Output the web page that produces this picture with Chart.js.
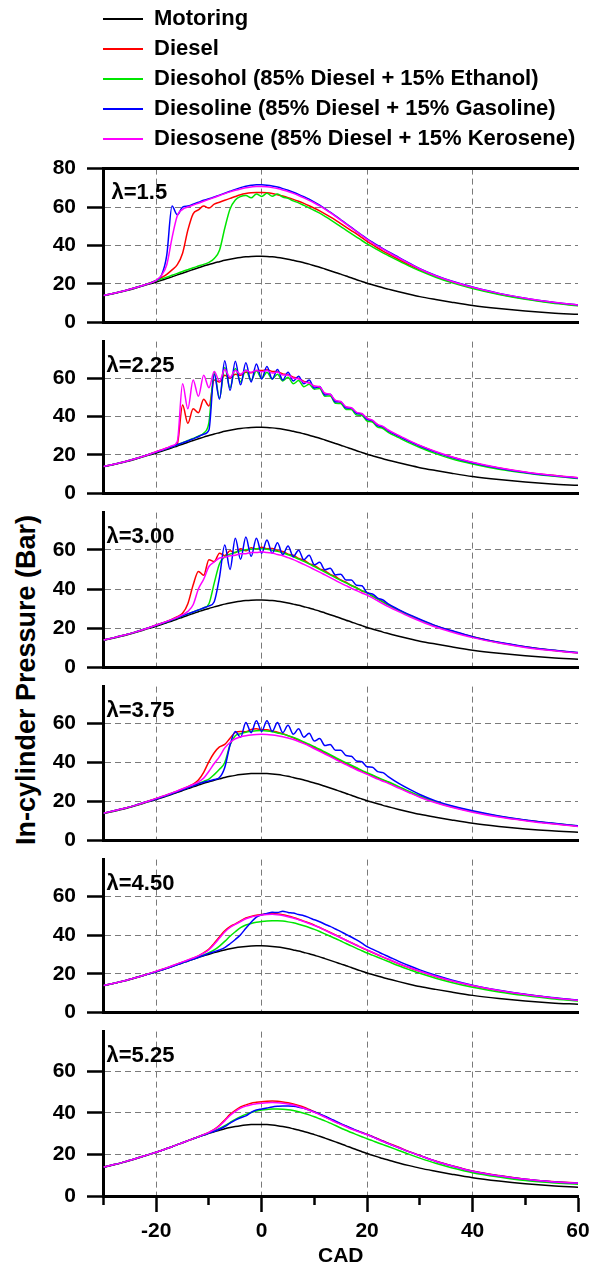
<!DOCTYPE html>
<html>
<head>
<meta charset="utf-8">
<script src="https://cdn.jsdelivr.net/npm/chart.js@4.4.1/dist/chart.umd.min.js"></script>
<style>
  html, body { margin: 0; padding: 0; background: #fff; }
  #wrap { position: relative; width: 601px; height: 1264px; overflow: hidden; }
  #wrap canvas { position: absolute; left: 0; }
  #ytitle {
    position: absolute; left: 26px; top: 680px;
    transform: translate(-50%, -50%) rotate(-90deg);
    white-space: nowrap; color: #000;
    font: bold 27px "Liberation Sans", Arial, sans-serif;
  }
</style>
</head>
<body>
<div id="wrap">
  <canvas id="legend" width="601" height="175" style="top:0"></canvas>
  <div id="ytitle">In-cylinder Pressure (Bar)</div>
</div>
<script>
// crank angle grid (CAD) shared by every curve
const cad = [-30, -28, -26, -24, -22,
  -20, -19, -18, -17, -16, -15, -14, -13, -12, -11,
  -10, -9, -8, -7, -6, -5, -4, -3, -2, -1,
  0, 1, 2, 3, 4, 5, 6, 7, 8, 9,
  10, 11, 12, 13, 14, 15, 16, 17, 18, 19,
  20, 21, 22, 23, 24, 26, 28, 30, 33, 36, 40, 45, 50, 55, 60];

const motoring = [13.8, 15.0, 16.3, 17.8, 19.4,
  21.0, 21.9, 22.8, 23.7, 24.7, 25.6, 26.6, 27.5, 28.4, 29.3,
  30.1, 30.9, 31.6, 32.3, 32.9, 33.4, 33.8, 34.1, 34.3, 34.4,
  34.4, 34.3, 34.1, 33.8, 33.4, 32.9, 32.3, 31.7, 31.0, 30.3,
  29.5, 28.7, 27.8, 26.9, 26.0, 25.1, 24.1, 23.2, 22.2, 21.3,
  20.4, 19.6, 18.8, 18.0, 17.3, 15.9, 14.6, 13.4, 11.9, 10.5, 8.8, 7.2, 5.9, 4.9, 4.2];

// lambda = 1.5
const diesel15 = [14.0, 15.2, 16.5, 18.0, 19.7,
  21.8, 23.3, 25.0, 27.3, 30.0, 36.0, 48.0, 56.5, 58.5, 60.5,
  59.5, 61.5, 62.5, 63.5, 64.5, 65.5, 66.4, 67.0, 67.4, 67.6,
  67.6, 67.4, 67.0, 66.4, 65.7, 64.9, 64.0, 63.0, 61.9, 60.7,
  59.4, 58.0, 56.5, 54.9, 53.2, 51.4, 49.6, 47.8, 46.0, 44.1,
  42.2, 40.4, 38.7, 37.1, 35.6, 32.7, 29.9, 27.3, 23.9, 21.1, 18.0, 14.8, 12.3, 10.3, 8.8];
const diesohol15 = [14.0, 15.2, 16.5, 18.0, 19.7,
  21.7, 22.6, 23.5, 24.5, 25.5, 26.5, 27.4, 28.4, 29.3, 30.2,
  31.2, 33.2, 37.5, 49.0, 59.0, 63.7, 65.5, 66.0, 64.8, 66.8,
  65.5, 67.2, 65.6, 66.8, 65.2, 64.5, 63.2, 62.2, 60.9, 59.6,
  58.2, 56.8, 55.2, 53.5, 51.7, 49.8, 48.0, 46.2, 44.4, 42.6,
  40.9, 39.3, 37.7, 36.2, 34.8, 32.0, 29.3, 26.8, 23.5, 20.7, 17.6, 14.5, 12.0, 10.1, 8.6];
const diesoline15 = [14.0, 15.2, 16.5, 18.0, 19.7,
  21.8, 24.5, 35.0, 60.5, 56.0, 60.0, 60.5, 61.5, 62.5, 63.5,
  64.3, 65.2, 66.2, 67.2, 68.2, 69.2, 70.1, 70.8, 71.3, 71.6,
  71.6, 71.4, 71.0, 70.4, 69.6, 68.7, 67.7, 66.6, 65.4, 64.1,
  62.6, 61.0, 59.2, 57.3, 55.4, 53.4, 51.4, 49.4, 47.4, 45.4,
  43.5, 41.7, 40.0, 38.4, 36.8, 33.8, 30.8, 27.9, 24.4, 21.5, 18.4, 15.1, 12.6, 10.6, 9.0];
const diesosene15 = [14.0, 15.2, 16.5, 18.0, 19.7,
  21.9, 24.5, 30.0, 44.0, 55.5, 58.8, 60.0, 61.0, 62.0, 63.0,
  64.0, 65.0, 66.0, 67.0, 67.9, 68.7, 69.4, 70.0, 70.4, 70.7,
  70.7, 70.5, 70.1, 69.6, 68.9, 68.1, 67.1, 66.0, 64.8, 63.5,
  62.1, 60.6, 58.9, 57.1, 55.2, 53.2, 51.2, 49.2, 47.2, 45.2,
  43.2, 41.4, 39.7, 38.1, 36.5, 33.5, 30.6, 27.8, 24.3, 21.4, 18.3, 15.1, 12.6, 10.6, 9.1];

// lambda = 2.25
const diesel225 = [14.0, 15.2, 16.5, 18.0, 19.7,
  21.7, 22.6, 23.6, 24.6, 25.8, 46.0, 36.5, 44.0, 42.0, 49.0,
  45.5, 59.0, 58.0, 61.5, 60.0, 62.0, 61.5, 63.0, 62.8, 64.0,
  64.0, 64.3, 63.5, 63.3, 62.2, 61.8, 60.5, 59.8, 58.3, 57.6,
  55.8, 54.9, 52.0, 51.1, 48.3, 47.3, 44.9, 44.2, 42.0, 41.2,
  39.1, 37.5, 35.8, 34.3, 32.7, 29.9, 27.2, 24.8, 21.6, 18.9, 16.0, 13.2, 11.0, 9.4, 8.1];
const diesohol225 = [14.0, 15.2, 16.5, 18.0, 19.7,
  21.5, 22.4, 23.3, 24.3, 25.3, 26.4, 27.5, 28.6, 29.8, 31.3,
  37.0, 63.0, 49.5, 65.5, 55.0, 65.0, 58.0, 64.2, 58.8, 63.8,
  59.8, 63.0, 59.5, 62.0, 58.5, 60.5, 57.0, 58.7, 55.5, 56.8,
  54.2, 54.6, 50.6, 50.7, 46.9, 46.8, 43.7, 43.6, 40.8, 40.6,
  37.7, 37.1, 34.5, 33.8, 31.8, 29.0, 26.3, 23.9, 20.7, 18.0, 15.3, 12.6, 10.6, 9.0, 7.8];
const diesoline225 = [14.0, 15.2, 16.5, 18.0, 19.7,
  21.5, 22.4, 23.3, 24.3, 25.3, 26.3, 27.3, 28.4, 29.5, 30.8,
  33.0, 62.0, 49.0, 69.0, 53.5, 68.8, 56.5, 68.0, 58.0, 67.3,
  59.6, 66.0, 59.5, 64.5, 59.0, 63.0, 58.5, 61.0, 57.0, 59.0,
  54.8, 55.6, 51.2, 51.6, 47.6, 47.7, 44.4, 44.4, 41.6, 41.4,
  38.5, 37.9, 35.3, 34.6, 32.6, 29.8, 27.1, 24.7, 21.5, 18.8, 15.9, 13.1, 10.9, 9.3, 8.0];
const diesosene225 = [14.0, 15.2, 16.5, 18.0, 19.7,
  21.7, 22.6, 23.6, 24.8, 27.0, 57.0, 44.0, 59.0, 50.5, 61.5,
  55.0, 63.5, 58.5, 64.5, 60.5, 64.0, 62.0, 64.0, 63.0, 64.0,
  63.3, 64.0, 62.6, 63.2, 61.6, 61.6, 59.9, 59.7, 57.9, 57.5,
  55.8, 55.5, 52.1, 51.6, 48.4, 47.8, 45.1, 44.6, 42.2, 41.6,
  39.1, 38.1, 35.8, 34.9, 33.0, 30.2, 27.5, 25.0, 21.8, 19.1, 16.2, 13.3, 11.1, 9.5, 8.2];

// lambda = 3.00
const diesel300 = [14.0, 15.2, 16.5, 18.0, 19.7,
  21.6, 22.5, 23.5, 24.6, 25.9, 27.6, 32.5, 42.0, 49.0, 47.0,
  55.0, 54.0, 58.3, 57.0, 59.5, 58.5, 60.5, 59.5, 61.0, 60.5,
  61.3, 60.6, 60.7, 59.5, 59.2, 57.8, 57.2, 55.6, 54.8, 53.0,
  52.0, 50.3, 49.3, 47.5, 46.4, 44.6, 43.5, 41.8, 40.7, 39.0,
  38.2, 36.5, 35.0, 33.4, 32.0, 29.2, 26.6, 24.3, 21.1, 18.6, 15.6, 12.7, 10.5, 8.8, 7.5];
const diesohol300 = [14.0, 15.2, 16.5, 18.0, 19.7,
  21.5, 22.4, 23.3, 24.3, 25.3, 26.3, 27.3, 28.3, 29.3, 30.4,
  32.5, 43.0, 52.9, 56.5, 57.8, 58.8, 59.5, 60.0, 60.3, 60.5,
  60.5, 60.3, 59.8, 59.2, 58.4, 57.5, 56.5, 55.3, 54.1, 52.8,
  51.4, 50.0, 48.6, 47.2, 45.8, 44.4, 43.1, 41.8, 40.5, 39.2,
  38.0, 36.4, 34.8, 33.3, 31.8, 29.1, 26.5, 24.2, 21.0, 18.5, 15.5, 12.6, 10.4, 8.7, 7.4];
const diesoline300 = [14.0, 15.2, 16.5, 18.0, 19.7,
  21.5, 22.4, 23.3, 24.3, 25.3, 26.3, 27.3, 28.3, 29.3, 30.3,
  31.4, 33.5, 46.0, 62.5, 50.0, 65.9, 55.2, 66.6, 56.7, 65.9,
  58.3, 65.0, 58.3, 63.6, 57.5, 62.0, 56.5, 59.8, 55.0, 57.2,
  52.4, 53.6, 49.8, 50.6, 47.2, 47.6, 44.6, 44.6, 41.9, 41.7,
  38.0, 37.5, 35.4, 34.4, 32.4, 29.5, 26.9, 24.6, 21.3, 18.8, 15.7, 12.8, 10.6, 8.9, 7.6];
const diesosene300 = [14.0, 15.2, 16.5, 18.0, 19.7,
  21.6, 22.5, 23.5, 24.5, 25.6, 26.9, 28.6, 32.0, 40.0, 45.0,
  51.5, 53.8, 55.8, 56.2, 57.0, 57.2, 58.0, 58.0, 58.7, 58.6,
  59.0, 58.6, 58.4, 57.6, 57.0, 56.0, 55.0, 53.8, 52.6, 51.3,
  49.9, 48.6, 47.2, 45.8, 44.4, 43.0, 41.7, 40.4, 39.2, 38.0,
  36.9, 35.5, 34.0, 32.5, 31.1, 28.5, 26.0, 23.7, 20.6, 18.1, 15.2, 12.4, 10.2, 8.6, 7.3];

// lambda = 3.75
const diesel375 = [14.0, 15.2, 16.5, 18.0, 19.7,
  21.5, 22.4, 23.3, 24.3, 25.3, 26.4, 27.6, 28.9, 31.0, 35.0,
  40.5, 45.0, 48.0, 49.3, 52.5, 55.5, 56.0, 55.8, 57.0, 57.3,
  56.8, 56.9, 56.2, 55.6, 54.8, 53.8, 52.7, 51.5, 50.2, 48.9,
  47.6, 46.3, 44.9, 43.5, 42.1, 40.7, 39.4, 38.1, 36.8, 35.6,
  34.4, 33.2, 32.0, 30.9, 29.8, 27.3, 24.8, 22.5, 19.6, 17.3, 14.8, 12.3, 10.3, 8.7, 7.3];
const diesohol375 = [14.0, 15.2, 16.5, 18.0, 19.7,
  21.4, 22.3, 23.2, 24.2, 25.2, 26.2, 27.2, 28.2, 29.2, 30.3,
  31.5, 33.8, 36.5, 40.0, 49.0, 53.8, 54.8, 55.6, 56.0, 56.3,
  56.4, 56.2, 55.8, 55.2, 54.6, 53.8, 52.9, 51.8, 50.6, 49.4,
  48.1, 46.8, 45.4, 44.0, 42.6, 41.2, 39.9, 38.6, 37.3, 36.0,
  34.8, 33.6, 32.4, 31.2, 30.1, 27.6, 25.1, 22.8, 19.8, 17.5, 14.9, 12.4, 10.4, 8.8, 7.4];
const diesoline375 = [14.0, 15.2, 16.5, 18.0, 19.7,
  21.3, 22.2, 23.1, 24.0, 25.0, 26.0, 27.0, 28.0, 29.0, 29.9,
  30.5, 31.3, 32.3, 37.5, 49.0, 56.0, 53.0, 60.6, 55.3, 61.4,
  56.0, 61.4, 56.0, 60.6, 55.3, 59.1, 54.5, 57.3, 53.0, 55.0,
  51.0, 52.3, 48.7, 49.3, 46.3, 46.3, 43.6, 43.2, 40.8, 40.4,
  37.8, 37.6, 35.3, 34.8, 32.8, 29.3, 26.3, 23.6, 20.3, 17.8, 15.2, 12.6, 10.5, 8.9, 7.5];
const diesosene375 = [14.0, 15.2, 16.5, 18.0, 19.7,
  21.6, 22.5, 23.4, 24.4, 25.4, 26.5, 27.6, 28.7, 30.0, 32.0,
  35.5, 39.5, 43.0, 47.5, 50.3, 52.2, 53.2, 53.8, 54.2, 54.4,
  54.5, 54.4, 54.1, 53.7, 53.2, 52.6, 51.8, 50.8, 49.7, 48.5,
  47.1, 45.8, 44.4, 43.0, 41.6, 40.2, 38.9, 37.6, 36.3, 35.1,
  33.9, 32.7, 31.5, 30.4, 29.3, 26.9, 24.5, 22.2, 19.3, 17.0, 14.5, 12.0, 10.1, 8.5, 7.2];

// lambda = 4.50
const diesel450 = [13.9, 15.1, 16.4, 17.9, 19.5,
  21.2, 22.1, 23.0, 24.0, 25.0, 26.0, 27.0, 28.0, 29.2, 30.8,
  32.8, 35.8, 39.0, 42.2, 44.3, 45.8, 47.3, 48.8, 49.6, 50.2,
  50.6, 51.0, 51.1, 50.9, 50.5, 49.9, 49.1, 48.2, 47.2, 46.2,
  45.1, 43.9, 42.6, 41.3, 40.0, 38.7, 37.3, 36.0, 34.7, 33.4,
  32.2, 31.0, 29.8, 28.6, 27.4, 25.1, 23.1, 21.2, 18.6, 16.3, 13.8, 11.2, 9.2, 7.5, 6.2];
const diesohol450 = [13.9, 15.1, 16.4, 17.9, 19.5,
  21.1, 22.0, 22.9, 23.8, 24.8, 25.7, 26.7, 27.6, 28.6, 29.7,
  30.9, 32.3, 34.3, 36.7, 39.4, 41.7, 43.8, 45.2, 46.0, 46.6,
  47.0, 47.3, 47.4, 47.4, 47.2, 46.8, 46.3, 45.6, 44.8, 43.9,
  42.9, 41.8, 40.6, 39.4, 38.2, 36.9, 35.6, 34.4, 33.1, 31.9,
  30.7, 29.6, 28.5, 27.4, 26.3, 24.1, 22.1, 20.2, 17.7, 15.5, 13.0, 10.6, 8.7, 7.1, 5.9];
const diesoline450 = [13.9, 15.1, 16.4, 17.9, 19.5,
  21.0, 21.9, 22.8, 23.7, 24.7, 25.6, 26.6, 27.5, 28.5, 29.5,
  30.5, 31.4, 32.3, 33.5, 35.5, 37.7, 40.2, 43.5, 46.6, 49.3,
  50.5, 51.1, 51.8, 51.6, 52.3, 51.7, 51.4, 50.6, 50.0, 49.0,
  47.9, 46.9, 45.6, 44.5, 43.1, 41.8, 40.3, 39.0, 37.5, 35.8,
  34.0, 32.7, 31.4, 30.1, 28.9, 26.4, 24.1, 22.0, 19.2, 16.8, 14.1, 11.5, 9.4, 7.7, 6.4];
const diesosene450 = [13.9, 15.1, 16.4, 17.9, 19.5,
  21.3, 22.2, 23.1, 24.1, 25.1, 26.1, 27.1, 28.1, 29.2, 30.6,
  32.4, 35.2, 38.4, 41.6, 43.9, 45.5, 47.0, 48.4, 49.3, 49.9,
  50.3, 50.6, 50.7, 50.5, 50.1, 49.5, 48.8, 47.9, 47.0, 46.0,
  44.9, 43.8, 42.5, 41.2, 39.9, 38.6, 37.3, 36.0, 34.7, 33.5,
  32.3, 31.1, 29.9, 28.7, 27.6, 25.3, 23.2, 21.3, 18.7, 16.4, 13.9, 11.3, 9.3, 7.6, 6.3];

// lambda = 5.25
const diesel525 = [13.9, 15.1, 16.4, 17.9, 19.5,
  21.0, 21.9, 22.8, 23.7, 24.7, 25.6, 26.6, 27.5, 28.5, 29.5,
  30.6, 32.0, 34.0, 36.5, 39.2, 41.2, 42.8, 43.8, 44.6, 45.0,
  45.3, 45.5, 45.6, 45.5, 45.2, 44.8, 44.2, 43.5, 42.7, 41.6,
  40.5, 39.3, 38.1, 36.9, 35.7, 34.6, 33.5, 32.4, 31.4, 30.5,
  29.6, 28.6, 27.5, 26.4, 25.4, 23.4, 21.3, 19.5, 16.8, 14.6, 12.0, 9.8, 8.1, 7.0, 6.3];
const diesohol525 = [13.9, 15.1, 16.4, 17.9, 19.5,
  21.0, 21.9, 22.8, 23.7, 24.7, 25.6, 26.6, 27.5, 28.5, 29.4,
  30.3, 31.3, 32.5, 33.8, 35.3, 36.8, 38.1, 39.2, 40.1, 40.8,
  41.3, 41.6, 41.8, 41.8, 41.7, 41.5, 41.1, 40.5, 39.8, 39.0,
  38.1, 37.1, 36.1, 35.0, 33.9, 32.7, 31.6, 30.5, 29.5, 28.5,
  27.5, 26.6, 25.6, 24.7, 23.8, 21.9, 20.0, 18.2, 15.7, 13.6, 11.2, 9.1, 7.4, 6.4, 5.7];
const diesoline525 = [13.9, 15.1, 16.4, 17.9, 19.5,
  21.0, 21.9, 22.8, 23.7, 24.7, 25.6, 26.6, 27.5, 28.4, 29.3,
  30.2, 31.1, 32.1, 33.4, 35.0, 36.5, 37.6, 38.5, 40.2, 41.3,
  41.8, 42.3, 42.8, 43.1, 43.3, 43.3, 43.1, 42.7, 42.1, 41.3,
  40.4, 39.4, 38.3, 37.2, 36.0, 34.8, 33.7, 32.6, 31.5, 30.5,
  29.5, 28.5, 27.4, 26.3, 25.2, 23.2, 21.2, 19.4, 16.7, 14.5, 11.9, 9.7, 8.0, 6.9, 6.2];
const diesosene525 = [13.9, 15.1, 16.4, 17.9, 19.5,
  21.0, 21.9, 22.8, 23.7, 24.7, 25.6, 26.6, 27.5, 28.5, 29.5,
  30.6, 31.9, 33.7, 36.1, 38.7, 40.7, 42.2, 43.2, 43.9, 44.3,
  44.6, 44.8, 44.9, 44.8, 44.6, 44.2, 43.7, 43.0, 42.2, 41.2,
  40.2, 39.1, 37.9, 36.7, 35.5, 34.4, 33.3, 32.2, 31.2, 30.3,
  29.4, 28.4, 27.3, 26.2, 25.2, 23.2, 21.2, 19.4, 16.7, 14.5, 11.9, 9.7, 8.0, 6.9, 6.2];

const seriesNames = ['Motoring', 'Diesel', 'Diesohol (85% Diesel + 15% Ethanol)',
  'Diesoline (85% Diesel + 15% Gasoline)', 'Diesosene (85% Diesel + 15% Kerosene)'];
const seriesColors = ['#000000', '#ff0000', '#00e600', '#0000ff', '#ff00ff'];
const lambdaLabels = ['\u03bb=1.5', '\u03bb=2.25', '\u03bb=3.00', '\u03bb=3.75', '\u03bb=4.50', '\u03bb=5.25'];
const panels = [
  [motoring, diesel15, diesohol15, diesoline15, diesosene15],
  [motoring, diesel225, diesohol225, diesoline225, diesosene225],
  [motoring, diesel300, diesohol300, diesoline300, diesosene300],
  [motoring, diesel375, diesohol375, diesoline375, diesosene375],
  [motoring, diesel450, diesohol450, diesoline450, diesosene450],
  [motoring, diesel525, diesohol525, diesoline525, diesosene525]
];
const yMax = [80, 79, 79, 79, 79, 79];

// page layout (pixels)
const panelTop = [159, 332, 503, 677, 850, 1022];
const panelBottom = [332, 503, 677, 850, 1022, 1196];
const lambdaDx = [8, 3, 3, 3, 3, 3];
const gridColor = '#7a7a7a';
const font = '"Liberation Sans", Arial, sans-serif';

Chart.defaults.font.family = font;
Chart.defaults.color = '#000';

const lambdaPlugin = {
  id: 'lambdaLabel',
  afterDatasetsDraw(chart, args, opts) {
    const { ctx, chartArea } = chart;
    ctx.save();
    ctx.font = 'bold 22px ' + font;
    ctx.fillStyle = '#000';
    ctx.textBaseline = 'middle';
    ctx.fillText(opts.text, chartArea.left + opts.dx, chartArea.top + 24);
    ctx.restore();
  }
};

// legend
new Chart(document.getElementById('legend'), {
  type: 'line',
  data: {
    datasets: seriesNames.map((name, k) => ({
      label: name, data: [], borderColor: seriesColors[k],
      backgroundColor: seriesColors[k], borderWidth: 0
    }))
  },
  options: {
    responsive: false, animation: false, events: [],
    layout: { padding: { left: 95, top: 0 } },
    scales: { x: { display: false }, y: { display: false } },
    plugins: {
      tooltip: { enabled: false },
      legend: {
        position: 'left', align: 'start', maxWidth: 600,
        labels: { boxWidth: 40, boxHeight: 2, padding: 8, color: '#000',
          font: { size: 22, weight: 'bold' } }
      }
    }
  }
});

const wrap = document.getElementById('wrap');

panels.forEach((series, i) => {
  const last = i === panels.length - 1;
  const below = last ? 68 : 14;
  const canvas = document.createElement('canvas');
  canvas.width = 601;
  canvas.height = panelBottom[i] - panelTop[i] + 14 + below;
  canvas.style.top = (panelTop[i] - 14) + 'px';
  wrap.appendChild(canvas);

  const scales = {
    x: {
      type: 'linear', min: -30, max: 60,
      afterFit: s => { s.height = below; },
      ticks: {
        display: last, stepSize: 10, padding: 7, maxRotation: 0, autoSkip: false,
        color: '#000', font: { size: 21, weight: 'bold' },
        callback: v => (v % 20 === 0 ? v : '')
      },
      grid: {
        drawTicks: last, tickLength: 16, tickWidth: 2.5, tickColor: '#000', lineWidth: 1,
        color: c => (c.tick && c.tick.value % 20 === 0 && c.tick.value > -30 && c.tick.value < 60) ? gridColor : 'rgba(0,0,0,0)',
        tickBorderDash: c => (c.tick && c.tick.value % 20 !== 0 ? [7, 100] : [])
      },
      border: { display: true, color: '#000', width: 3, dash: [6, 4] },
      title: {
        display: last, text: 'CAD', color: '#000', padding: { top: 0, bottom: -3 },
        font: { size: 21, weight: 'bold', lineHeight: 1 }
      }
    },
    y: {
      min: 0, max: yMax[i],
      afterFit: s => { s.width = 103.5; },
      ticks: {
        stepSize: 10, includeBounds: false, padding: 11,
        color: '#000', font: { size: 21, weight: 'bold' },
        callback: v => (v % 20 === 0 ? v : '')
      },
      grid: {
        tickLength: 16.5, tickWidth: 2.5, tickColor: '#000', lineWidth: 1,
        color: c => (c.tick && c.tick.value % 20 === 0 && c.tick.value > 0 && c.tick.value < 80) ? gridColor : 'rgba(0,0,0,0)',
        tickBorderDash: c => (c.tick && c.tick.value % 20 !== 0 ? [0, 9, 30] : [])
      },
      border: { display: true, color: '#000', width: 3, dash: [6, 4] }
    }
  };
  if (i === 0) {
    scales.x2 = {
      type: 'linear', position: 'top', min: -30, max: 60,
      afterFit: s => { s.height = 0; },
      ticks: { display: false },
      grid: { display: false, drawTicks: false },
      border: { display: true, color: '#000', width: 3 }
    };
  }

  new Chart(canvas, {
    type: 'line',
    data: {
      datasets: series.map((vals, k) => ({
        label: seriesNames[k],
        data: cad.map((x, j) => ({ x: x, y: vals[j] })),
        borderColor: seriesColors[k],
        borderWidth: 1.5,
        pointRadius: 0,
        fill: false,
        cubicInterpolationMode: 'monotone',
        order: series.length - 1 - k
      }))
    },
    options: {
      responsive: false, animation: false, events: [],
      layout: { padding: { left: 0, right: 23, top: 14, bottom: 0 } },
      scales: scales,
      plugins: {
        legend: { display: false },
        tooltip: { enabled: false },
        lambdaLabel: { text: lambdaLabels[i], dx: lambdaDx[i] }
      }
    },
    plugins: [lambdaPlugin]
  });
});
</script>
</body>
</html>
